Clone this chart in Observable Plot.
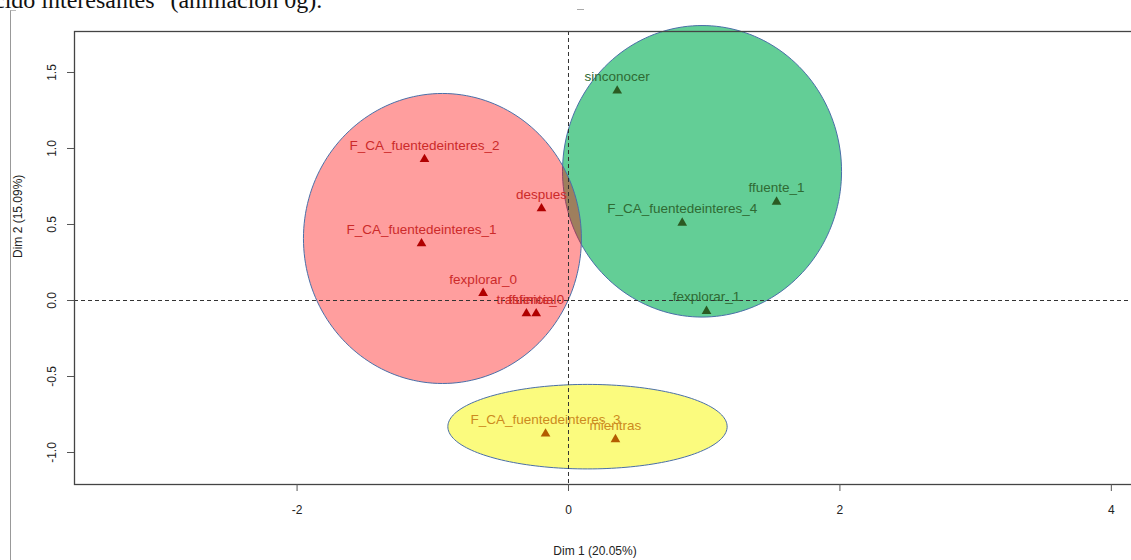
<!DOCTYPE html>
<html>
<head>
<meta charset="utf-8">
<script src="https://cdn.jsdelivr.net/npm/d3@7"></script>
<script src="https://cdn.jsdelivr.net/npm/@observablehq/plot@0.6"></script>
<style>
  html, body { margin: 0; padding: 0; background: #fff; overflow: hidden; width: 1131px; height: 560px; }
  #wrap { position: relative; width: 1131px; height: 560px; overflow: hidden; }
  #doctext { position: absolute; left: -6px; top: -12px; font-family: "Liberation Serif", "DejaVu Serif", serif; font-size: 24px; line-height: 24px; color: #111; white-space: nowrap; }
  #docline { position: absolute; left: 10px; top: 10px; width: 5px; height: 560px; border-left: 1px solid #999; border-top: 1px solid #bbb; }
  #docdash { position: absolute; left: 577px; top: 9px; width: 7px; height: 0; border-top: 1px solid #aaa; }
  #chart { position: absolute; left: 0; top: 0; width: 1135px; }
  #chart svg { max-width: none !important; }
</style>
</head>
<body>
<div id="wrap">
  <div id="doctext">cido interesantes" (animación 0g).</div>
  <div id="docline"></div>
  <div id="docdash"></div>
  <div id="chart"></div>
</div>
<script>
// ---- Data ----
const labels  = ["sinconocer", "F_CA_fuentedeinteres_2", "despues", "F_CA_fuentedeinteres_1", "ffuente_1",
                 "F_CA_fuentedeinteres_4", "fexplorar_0", "trasfinicial", "ffuente_0", "fexplorar_1",
                 "F_CA_fuentedeinteres_3", "mientras"];
const dim1    = [0.359, -1.061, -0.199, -1.083, 1.533, 0.838, -0.629, -0.310, -0.238, 1.017, -0.169, 0.346];
const dim2    = [1.380, 0.929, 0.605, 0.375, 0.649, 0.511, 0.048, -0.086, -0.086, -0.070, -0.877, -0.914];
const cluster = [2, 1, 1, 1, 2, 2, 1, 1, 1, 2, 3, 3];

// ellipse (cluster region) centres and radii in data units
const ellipseCluster = [1, 2, 3];
const ellipseCx = [-0.929, 0.984, 0.140];
const ellipseCy = [0.408, 0.850, -0.830];
const ellipseRx = [1.024, 1.028, 1.029];
const ellipseRy = [0.954, 0.959, 0.278];

const xTicks = [-2, 0, 2, 4];
const yTicks = [-1.0, -0.5, 0.0, 0.5, 1.0, 1.5];
const xLabel = "Dim 1 (20.05%)";
const yLabel = "Dim 2 (15.09%)";

// ---- Styles ----
const labelColor = {1: "#cc2a2a", 2: "#2f6a33", 3: "#cc8a20"};
const pointColor = {1: "#b00000", 2: "#2b5a22", 3: "#b35c00"};

const points = labels.map((l, i) => ({label: l, x: dim1[i], y: dim2[i], cluster: cluster[i]}));

function ellipsePath(k) {
  const pts = [];
  const n = 180;
  for (let j = 0; j < n; j++) {
    const t = (2 * Math.PI * j) / n;
    pts.push({x: ellipseCx[k] + ellipseRx[k] * Math.cos(t), y: ellipseCy[k] + ellipseRy[k] * Math.sin(t)});
  }
  return pts;
}

const font = "'Liberation Sans', Arial, sans-serif";

const chart = Plot.plot({
  width: 1135,
  height: 560,
  marginLeft: 74,
  marginRight: 0,
  marginTop: 31,
  marginBottom: 76,
  style: {fontFamily: font, fontSize: "12px", color: "#222", background: "transparent", overflow: "visible", maxWidth: "none"},
  x: {domain: [-3.640, 4.178]},
  y: {domain: [-1.2105, 1.7697]},
  marks: [
    // cluster regions
    Plot.line(ellipsePath(1), {x: "x", y: "y", curve: "linear-closed", fill: "#63ce96", stroke: "#4a6fa8", strokeWidth: 1, clip: false}),
    Plot.line(ellipsePath(0), {x: "x", y: "y", curve: "linear-closed", fill: "#ff0000", fillOpacity: 0.38, stroke: "#4a6fa8", strokeWidth: 1}),
    Plot.line(ellipsePath(2), {x: "x", y: "y", curve: "linear-closed", fill: "#fbfb7e", stroke: "#4a6fa8", strokeWidth: 1}),
    // reference lines
    Plot.ruleX([0], {stroke: "#333", strokeDasharray: "4,3", strokeWidth: 1}),
    Plot.ruleY([0], {stroke: "#333", strokeDasharray: "4,3", strokeWidth: 1}),
    // points
    Plot.dot(points, {x: "x", y: "y", symbol: "triangle", r: 3.6, fill: d => pointColor[d.cluster], stroke: "none"}),
    Plot.text(points, {x: "x", y: "y", text: "label", dy: -14, fill: d => labelColor[d.cluster], fontSize: 13.5, fontFamily: font}),
    // frame
    Plot.frame({stroke: "#444", strokeWidth: 1.3}),
    // axes
    Plot.axisX({ticks: xTicks, tickSize: 7, tickPadding: 14, tickFormat: d => String(d), label: null, stroke: "#555", fontSize: 12}),
    Plot.axisY({ticks: yTicks, tickSize: 7, tickPadding: 12, tickRotate: -90, tickFormat: d => d.toFixed(1), label: null, stroke: "#555", fontSize: 12}),
    Plot.text([xLabel], {frameAnchor: "bottom", dy: 70, dx: -10, text: d => d, fill: "#222", fontSize: 12}),
    Plot.text([yLabel], {frameAnchor: "left", dx: -56, rotate: -90, text: d => d, fill: "#222", fontSize: 12})
  ]
});

document.getElementById("chart").appendChild(chart);
</script>
</body>
</html>
